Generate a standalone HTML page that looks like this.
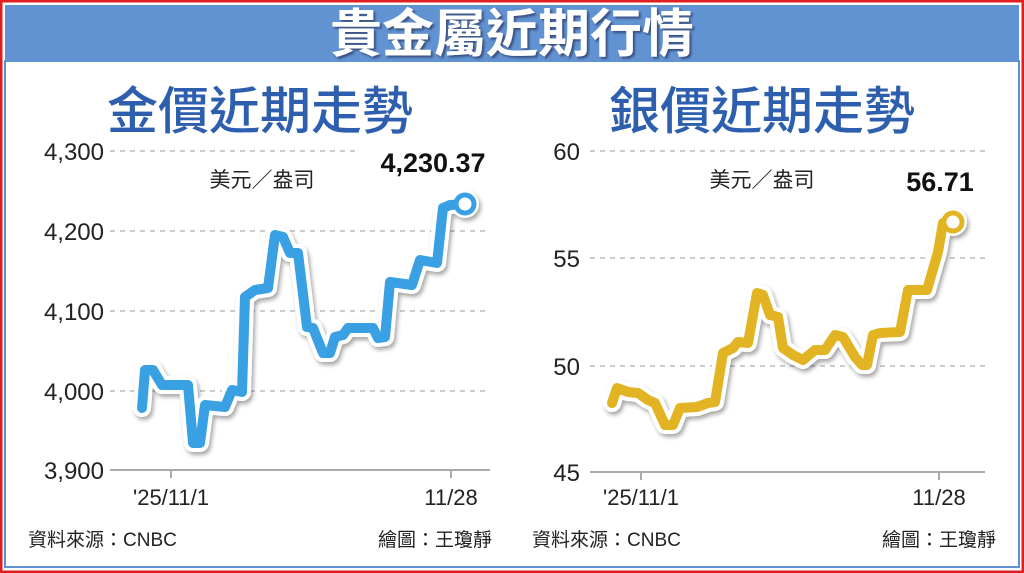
<!DOCTYPE html>
<html><head><meta charset="utf-8"><style>
body{margin:0;width:1024px;height:573px;overflow:hidden;background:#fff}
svg{display:block}
text{font-family:"Liberation Sans","Noto Sans CJK TC",sans-serif}
</style></head><body>
<svg width="1024" height="573" viewBox="0 0 1024 573">
<defs>
<filter id="sh" x="-10%" y="-10%" width="120%" height="120%"><feDropShadow dx="2" dy="3" stdDeviation="2" flood-color="#000" flood-opacity="0.35"/></filter>
<filter id="ts"><feDropShadow dx="2" dy="2" stdDeviation="1" flood-color="#224" flood-opacity="0.6"/></filter>
</defs>
<rect x="0" y="0" width="1024" height="573" fill="#fff"/>
<rect x="1" y="1" width="1022" height="571" fill="none" stroke="#e02020" stroke-width="3"/>
<rect x="5" y="5" width="1014" height="56" fill="#6193d2"/>
<rect x="5" y="61" width="1014" height="506" fill="none" stroke="#6193d2" stroke-width="2"/>
<text x="512" y="52" text-anchor="middle" font-size="52" font-weight="bold" fill="#fff" filter="url(#ts)" font-family="Noto Sans CJK TC, sans-serif">貴金屬近期行情</text>
<text x="260" y="129" text-anchor="middle" font-size="51" fill="#2d5fae" font-weight="500" font-family="Noto Sans CJK TC, sans-serif">金價近期走勢</text>
<text x="762" y="129" text-anchor="middle" font-size="51" fill="#2d5fae" font-weight="500" font-family="Noto Sans CJK TC, sans-serif">銀價近期走勢</text>
<g stroke="#999" stroke-dasharray="5,5" stroke-width="1">
<line x1="110" y1="151" x2="355" y2="151"/><line x1="110" y1="231" x2="490" y2="231"/>
<line x1="110" y1="311" x2="490" y2="311"/><line x1="110" y1="391" x2="490" y2="391"/>
<line x1="590" y1="151" x2="985" y2="151"/><line x1="590" y1="258" x2="985" y2="258"/><line x1="590" y1="366" x2="985" y2="366"/>
</g>
<g stroke="#aaa" stroke-width="2"><line x1="110" y1="470" x2="490" y2="470"/><line x1="171" y1="470" x2="171" y2="478"/><line x1="451" y1="470" x2="451" y2="478"/>
<line x1="590" y1="472" x2="985" y2="472"/><line x1="641" y1="472" x2="641" y2="480"/><line x1="939" y1="472" x2="939" y2="480"/></g>
<g font-size="24" fill="#222" text-anchor="end">
<text x="104" y="160">4,300</text><text x="104" y="240">4,200</text><text x="104" y="320">4,100</text><text x="104" y="400">4,000</text><text x="104" y="479">3,900</text>
<text x="580" y="160">60</text><text x="580" y="267">55</text><text x="580" y="375">50</text><text x="580" y="481">45</text>
</g>
<g font-size="21" fill="#222" text-anchor="middle" font-family="Noto Sans CJK TC, sans-serif">
<text x="262" y="187">美元／盎司</text><text x="762" y="187">美元／盎司</text></g>
<g font-size="27" font-weight="bold" fill="#111" text-anchor="middle">
<text x="433" y="172">4,230.37</text><text x="940" y="191">56.71</text></g>
<g font-size="22" fill="#222" text-anchor="middle">
<text x="171" y="505">'25/11/1</text><text x="451" y="505">11/28</text>
<text x="641" y="505">'25/11/1</text><text x="939" y="505">11/28</text></g>
<g font-size="19" fill="#222" font-family="Liberation Sans, Noto Sans CJK TC, sans-serif">
<text x="28" y="546">資料來源：CNBC</text><text x="492" y="546" text-anchor="end">繪圖：王瓊靜</text>
<text x="532" y="546">資料來源：CNBC</text><text x="996" y="546" text-anchor="end">繪圖：王瓊靜</text></g>
<g fill="none" stroke-linejoin="round" stroke-linecap="round">
<g filter="url(#sh)">
<polyline stroke="#fff" stroke-width="18" points="142,408 145,370 153,370 162,385 188,385 193,443 200,443 205,405 225,407 232,390 242,392 245,297 255,290 268,288 275,235 283,237 290,253 298,253 307,327 313,328 323,353 330,353 335,337 343,335 348,328 373,328 378,338 385,337 390,282 412,285 420,260 437,263 443,208 450,205 465,204"/>
<circle cx="465" cy="204" r="14" fill="#fff" stroke="none"/>
<polyline stroke="#fff" stroke-width="18" points="612,403 617,388 628,392 638,393 648,400 655,403 665,425 673,425 680,408 697,407 708,403 715,402 723,353 733,348 738,342 748,343 757,293 763,295 770,315 778,317 783,348 793,355 803,360 815,350 825,350 835,335 843,337 855,357 862,365 867,365 873,335 880,333 900,332 908,290 927,290 938,252 943,223 953,222"/>
<circle cx="953" cy="222" r="14" fill="#fff" stroke="none"/>
</g>
<polyline stroke="#3aa0e4" stroke-width="10" points="142,408 145,370 153,370 162,385 188,385 193,443 200,443 205,405 225,407 232,390 242,392 245,297 255,290 268,288 275,235 283,237 290,253 298,253 307,327 313,328 323,353 330,353 335,337 343,335 348,328 373,328 378,338 385,337 390,282 412,285 420,260 437,263 443,208 450,205 465,204"/>
<circle cx="465" cy="204" r="9" fill="#fff" stroke="#3aa0e4" stroke-width="5"/>
<polyline stroke="#e2b424" stroke-width="10" points="612,403 617,388 628,392 638,393 648,400 655,403 665,425 673,425 680,408 697,407 708,403 715,402 723,353 733,348 738,342 748,343 757,293 763,295 770,315 778,317 783,348 793,355 803,360 815,350 825,350 835,335 843,337 855,357 862,365 867,365 873,335 880,333 900,332 908,290 927,290 938,252 943,223 953,222"/>
<circle cx="953" cy="222" r="9" fill="#fff" stroke="#e2b424" stroke-width="5"/>
</g>
</svg>
</body></html>
